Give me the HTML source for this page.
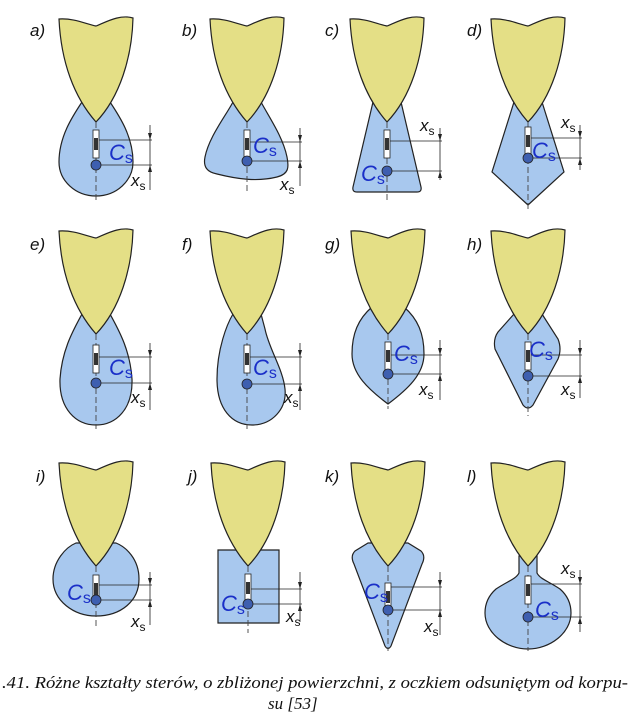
<!DOCTYPE html>
<html><head><meta charset="utf-8"><style>
html,body{margin:0;padding:0;background:#fff}
svg{display:block}
.h{fill:#e4df86;stroke:#222;stroke-width:1.2}
.r{fill:#a8c8ee;stroke:#222;stroke-width:1.2}
.c{stroke:#444;stroke-width:0.9;stroke-dasharray:6,3;fill:none}
.d{stroke:#222;stroke-width:0.8;fill:none}
.lb{font-family:"Liberation Sans",sans-serif;font-style:italic;font-size:17px;fill:#111}
.cs{font-family:"Liberation Sans",sans-serif;font-style:italic;font-size:22px;fill:#1a2fc8}
.cs tspan{font-size:16px;font-style:normal}
.xs{font-family:"Liberation Sans",sans-serif;font-style:italic;font-size:17px;fill:#111}
.xs tspan{font-size:12px;font-style:normal}
.cap{font-family:"Liberation Serif",serif;font-style:italic;font-size:17px;fill:#111}
</style></head><body>
<svg width="639" height="720" viewBox="0 0 639 720" xmlns="http://www.w3.org/2000/svg">
<defs>
<path id="hull" d="M-37,2 C-22,1 -10,7 0,9 C10,5 24,-3 37,1 C36,40 24,80 0,105 C-22,80 -35,45 -37,2 Z"/>
<g id="mk"><rect x="-3" y="0" width="6" height="28" fill="#fff" stroke="#222" stroke-width="0.8"/><rect x="-2" y="8" width="4" height="12" fill="#333"/></g>
</defs>

<text class="lb" x="30" y="36">a)</text>
<text class="lb" x="182" y="36">b)</text>
<text class="lb" x="325" y="36">c)</text>
<text class="lb" x="467" y="36">d)</text>
<text class="lb" x="30" y="250">e)</text>
<text class="lb" x="182" y="250">f)</text>
<text class="lb" x="325" y="250">g)</text>
<text class="lb" x="467" y="250">h)</text>
<text class="lb" x="36" y="482">i)</text>
<text class="lb" x="188" y="482">j)</text>
<text class="lb" x="325" y="482">k)</text>
<text class="lb" x="467" y="482">l)</text>

<g transform="translate(96,17)">
<path class="r" d="M-14,85 C-24,100 -37,120 -37,145 A37,34 0 0 0 37,145 C37,120 24,100 14,85 Z"/>
<use href="#hull" class="h"/><path class="c" d="M0,105 V186"/>
<use href="#mk" x="0" y="113"/><circle cx="0" cy="148" r="5" fill="#3e5fb0" stroke="#222" stroke-width="0.8"/>
</g>
<g transform="translate(247,17)">
<path class="r" d="M-14,85 C-22,100 -38,120 -42,140 C-44,150 -40,155 -30,157 C-10,162 10,165 30,160 C42,157 42,150 40,140 C36,120 22,100 14,85 Z"/>
<use href="#hull" class="h"/><path class="c" d="M0,105 V176"/>
<use href="#mk" x="0" y="113"/><circle cx="0" cy="144" r="5" fill="#3e5fb0" stroke="#222" stroke-width="0.8"/>
</g>
<g transform="translate(387,17)">
<path class="r" d="M-14,85 L14,85 L34,170 Q35,175 30,175 L-30,175 Q-35,175 -34,170 Z"/>
<use href="#hull" class="h"/><path class="c" d="M0,105 V186"/>
<use href="#mk" x="0" y="113"/><circle cx="0" cy="154" r="5" fill="#3e5fb0" stroke="#222" stroke-width="0.8"/>
</g>
<g transform="translate(528,17)">
<path class="r" d="M-14,85 L14,85 L36,155 L0,188 L-36,155 Z"/>
<use href="#hull" class="h"/><path class="c" d="M0,105 V192"/>
<use href="#mk" x="0" y="110"/><circle cx="0" cy="141" r="5" fill="#3e5fb0" stroke="#222" stroke-width="0.8"/>
</g>
<g transform="translate(96,229)">
<path class="r" d="M-14,85 C-22,100 -34,120 -36,150 C-37,180 -20,196 0,196 C20,196 37,180 36,150 C34,120 22,100 14,85 Z"/>
<use href="#hull" class="h"/><path class="c" d="M0,105 V200"/>
<use href="#mk" x="0" y="116"/><circle cx="0" cy="154" r="5" fill="#3e5fb0" stroke="#222" stroke-width="0.8"/>
</g>
<g transform="translate(247,229)">
<path class="r" d="M-14,85 C-20,95 -30,120 -30,150 C-30,180 -15,196 5,196 C25,196 40,180 38,160 C36,140 22,120 18,100 L14,85 Z"/>
<use href="#hull" class="h"/><path class="c" d="M0,105 V200"/>
<use href="#mk" x="0" y="116"/><circle cx="0" cy="155" r="5" fill="#3e5fb0" stroke="#222" stroke-width="0.8"/>
</g>
<g transform="translate(388,229)">
<path class="r" d="M-16,78 C-30,90 -36,105 -36,125 C-36,145 -20,160 0,175 C20,160 36,145 36,125 C36,105 30,90 16,78 Z"/>
<use href="#hull" class="h"/><path class="c" d="M0,105 V180"/>
<use href="#mk" x="0" y="113"/><circle cx="0" cy="145" r="5" fill="#3e5fb0" stroke="#222" stroke-width="0.8"/>
</g>
<g transform="translate(528,229)">
<path class="r" d="M-14,85 L-30,103 Q-35,110 -33,120 L-5,176 Q0,182 5,176 L30,130 Q34,120 30,110 L14,85 Z"/>
<use href="#hull" class="h"/><path class="c" d="M0,105 V187"/>
<use href="#mk" x="0" y="113"/><circle cx="0" cy="147" r="5" fill="#3e5fb0" stroke="#222" stroke-width="0.8"/>
</g>
<g transform="translate(96,461)">
<path class="r" d="M-20,82 C-30,86 -43,100 -43,118 C-43,140 -22,155 0,155 C25,155 43,140 43,118 C43,98 30,86 20,82 Z"/>
<use href="#hull" class="h"/><path class="c" d="M0,105 V165"/>
<use href="#mk" x="0" y="114"/><circle cx="0" cy="139" r="5" fill="#3e5fb0" stroke="#222" stroke-width="0.8"/>
</g>
<g transform="translate(248,461)">
<path class="r" d="M-30,89 H31 V162 H-30 Z"/>
<use href="#hull" class="h"/><path class="c" d="M0,105 V172"/>
<use href="#mk" x="0" y="113"/><circle cx="0" cy="143" r="5" fill="#3e5fb0" stroke="#222" stroke-width="0.8"/>
</g>
<g transform="translate(388,461)">
<path class="r" d="M-20,82 L-33,90 Q-38,95 -34,103 L-3,185 Q0,190 3,185 L34,103 Q38,95 33,90 L20,82 Z"/>
<use href="#hull" class="h"/><path class="c" d="M0,105 V190"/>
<use href="#mk" x="0" y="122"/><circle cx="0" cy="149" r="5" fill="#3e5fb0" stroke="#222" stroke-width="0.8"/>
</g>
<g transform="translate(528,461)">
<path class="r" d="M-9,95 V112 C-12,118 -20,120 -32,128 C-40,135 -43,143 -43,152 C-43,172 -22,188 0,188 C22,188 43,172 43,152 C43,143 40,135 32,128 C20,120 12,118 9,112 V95 Z"/>
<use href="#hull" class="h"/><path class="c" d="M0,105 V190"/>
<use href="#mk" x="0" y="115"/><circle cx="0" cy="156" r="5" fill="#3e5fb0" stroke="#222" stroke-width="0.8"/>
</g>

<g class="d">
<path d="M99,140 H152 M101,165 H152 M150,125 V190"/>
<path d="M250,142 H302 M252,161 H302 M300,128 V186"/>
<path d="M390,141 H442 M392,171 H442 M440,128 V180"/>
<path d="M531,138 H582 M533,158 H582 M580,125 V170"/>
<path d="M99,357 H152 M101,383 H152 M150,343 V410"/>
<path d="M250,357 H302 M252,384 H302 M300,343 V410"/>
<path d="M391,355 H442 M393,374 H442 M440,340 V400"/>
<path d="M531,355 H582 M533,376 H582 M580,340 V398"/>
<path d="M99,585 H152 M101,600 H152 M150,572 V625"/>
<path d="M251,589 H302 M253,604 H302 M300,572 V622"/>
<path d="M391,587 H442 M393,610 H442 M440,572 V635"/>
<path d="M531,584 H582 M533,617 H582 M580,570 V632"/>
</g>
<g fill="#222">
<path d="M150,140 l-2,-7 h4z M150,165 l-2,7 h4z"/>
<path d="M300,142 l-2,-7 h4z M300,161 l-2,7 h4z"/>
<path d="M440,141 l-2,-7 h4z M440,171 l-2,7 h4z"/>
<path d="M580,138 l-2,-7 h4z M580,158 l-2,7 h4z"/>
<path d="M150,357 l-2,-7 h4z M150,383 l-2,7 h4z"/>
<path d="M300,357 l-2,-7 h4z M300,384 l-2,7 h4z"/>
<path d="M440,355 l-2,-7 h4z M440,374 l-2,7 h4z"/>
<path d="M580,355 l-2,-7 h4z M580,376 l-2,7 h4z"/>
<path d="M150,585 l-2,-7 h4z M150,600 l-2,7 h4z"/>
<path d="M300,589 l-2,-7 h4z M300,604 l-2,7 h4z"/>
<path d="M440,587 l-2,-7 h4z M440,610 l-2,7 h4z"/>
<path d="M580,584 l-2,-7 h4z M580,617 l-2,7 h4z"/>
</g>

<text class="cs" x="109" y="160">C<tspan dy="3">s</tspan></text>
<text class="cs" x="253" y="153">C<tspan dy="3">s</tspan></text>
<text class="cs" x="361" y="181">C<tspan dy="3">s</tspan></text>
<text class="cs" x="532" y="158">C<tspan dy="3">s</tspan></text>
<text class="cs" x="109" y="375">C<tspan dy="3">s</tspan></text>
<text class="cs" x="253" y="375">C<tspan dy="3">s</tspan></text>
<text class="cs" x="394" y="361">C<tspan dy="3">s</tspan></text>
<text class="cs" x="529" y="357">C<tspan dy="3">s</tspan></text>
<text class="cs" x="67" y="600">C<tspan dy="3">s</tspan></text>
<text class="cs" x="221" y="611">C<tspan dy="3">s</tspan></text>
<text class="cs" x="364" y="599">C<tspan dy="3">s</tspan></text>
<text class="cs" x="535" y="617">C<tspan dy="3">s</tspan></text>

<text class="xs" x="131" y="186">x<tspan dy="4">s</tspan></text>
<text class="xs" x="280" y="190">x<tspan dy="4">s</tspan></text>
<text class="xs" x="420" y="131">x<tspan dy="4">s</tspan></text>
<text class="xs" x="561" y="128">x<tspan dy="4">s</tspan></text>
<text class="xs" x="131" y="403">x<tspan dy="4">s</tspan></text>
<text class="xs" x="284" y="403">x<tspan dy="4">s</tspan></text>
<text class="xs" x="419" y="395">x<tspan dy="4">s</tspan></text>
<text class="xs" x="561" y="395">x<tspan dy="4">s</tspan></text>
<text class="xs" x="131" y="627">x<tspan dy="4">s</tspan></text>
<text class="xs" x="286" y="622">x<tspan dy="4">s</tspan></text>
<text class="xs" x="424" y="632">x<tspan dy="4">s</tspan></text>
<text class="xs" x="561" y="574">x<tspan dy="4">s</tspan></text>

<text class="cap" x="2" y="688" textLength="626" lengthAdjust="spacingAndGlyphs">.41. Różne kształty sterów, o zbliżonej powierzchni, z oczkiem odsuniętym od korpu-</text>
<text class="cap" x="268" y="709">su [53]</text>
</svg>
</body></html>
